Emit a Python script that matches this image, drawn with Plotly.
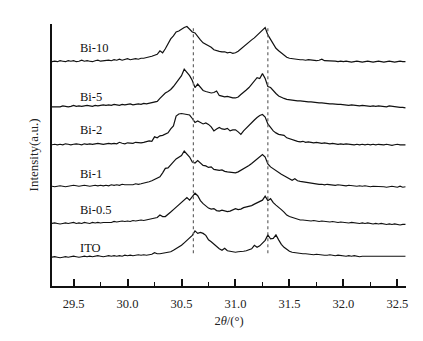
import numpy as np
import plotly.graph_objects as go

# 2-theta sampling grid (degrees), step 0.025 from 29.3 to 32.575
two_theta = np.round(29.3 + 0.025 * np.arange(132), 3)

samples = ["ITO", "Bi-0.5", "Bi-1", "Bi-2", "Bi-5", "Bi-10"]
# vertical stacking offsets (a.u.)
offsets = [29, 62, 100, 142.3, 180, 226]

ito = [0,0.5,0,-0.5,0,0.5,0,0.5,1,0.5,0,0.5,1,0.5,1,0.5,1,1.5,1,0.5,
       1,1.5,1,1.5,1,1.5,1,2,1.5,2,1.5,2,2.5,2,2.5,2,2.5,3,4.5,3.5,
       3.5,4,4,4.5,5.5,7,8.5,10,12,14.5,17,19.5,22,26.5,24,25,24,22,17.5,15.5,
       13,10.5,8.5,7,9,6.5,6,5.5,5,5.5,5.5,6,6.5,7.5,8.5,12,10,11.5,14,17,
       22.5,18.5,19,22.5,17.5,13,10,7.5,6,5,4.5,4,4,3.5,3.5,3,3,2.5,3,2.5,
       2.5,2,2,2.5,2,1.5,2,1.5,1.5,1,1.5,1,1.5,1,0.5,1,1,0.5,1,0.5,
       1,0.5,1,0.5,1,1,0.5,1,0.5,1,0.5,1]

bi_05 = [1,1.5,1,0.5,1,1.5,1,1.5,2,1,1.5,1,2,1.5,1,2,1.5,2,1.5,2,
         2,2.5,2,3,2.5,3,3.5,3,3.5,3,4,3.5,4,4.5,4,4.5,5,5.5,6,7,
         9.5,8,8,10,12.5,15,17.5,20,22.5,25,27,24.5,28,31.5,29,24,21,19,16.5,15.5,
         16,14,13.5,14.5,14,13,13.5,15,16,15,15.5,17,17.5,18.5,19,20.5,22,23,24.5,28.5,
         24,26,22,19.5,17.5,15,12.5,9.5,8,7,6,5.5,4.5,4.5,4,4,3.5,4,3.5,3,
         3.5,3,3,2.5,3,2.5,2,2.5,2,2,1.5,2,1.5,1.5,1,1.5,1,1.5,1,0.5,
         1,0.5,1,0.5,0,0.5,0,0.5,0,-0.5,0,0]

bi_1 = [0.5,0,0.5,1,0.5,0,0.5,1,1.5,1,0.5,1,1.5,1,0.5,1,1.5,1,1.5,1,
        1.5,1,2,1.5,2,1.5,2.5,2,2,2.5,2,3,2.5,3,3.5,4,5,6,7.5,8.5,
        10,14,18.5,19,21.5,25,28,29.5,31.5,36,33,30,25,24,26.5,24,21.5,21,19.5,20,
        17.5,17,16.5,17,15.5,15,14.5,14,14,15,16.5,18,20,21.5,23.5,26,28.5,30,32.5,30,
        23,20,18,16,14.5,12.5,11,9.5,8,6.5,8,6,5.5,5,4.5,4,3.5,3,3,2.5,
        2.5,2,2.5,2,2,1.5,2,1.5,1.5,1,1.5,1,1,0.5,1,0.5,1,0.5,0,0.5,
        0.5,0,0.5,0,-0.5,0,0.5,0,-0.5,0.5,-0.5,0]

bi_2 = [0,0.5,0,0.5,0,1,0.5,0,0.5,1,0.5,0,1,0.5,1,0.5,1,1.5,1,0.5,
        1,1.5,1,1.5,1,2.5,1.5,1,2,2,1.5,2.5,2,2,2.5,3,4,3.5,8,7,
        9,9.5,11,12,16,19,29,31,31.5,31,30.5,30,26.5,22.5,24,22.5,21,22,20.5,18,
        14,16,17.5,16,15.5,16.5,14,15,15,13,10.5,14,17,19.5,22,25,27.5,29.5,30.5,28,
        21,17,14,12,10.5,10,9.5,7,6,5,4,3.5,3,3.5,2.5,3,2.5,2,2.5,2,
        1.5,2,1.5,1,1.5,1,0.5,1,0.5,1,0.5,0.5,0,0.5,0,0.5,0,0.5,0,0.5,
        0,0.5,0,0,0.5,0,-0.5,0,0.5,0,0,0]

bi_5 = [0.5,0.5,1,0.5,1.5,1,0.5,1,2,1,1.5,1,1.5,2,1.5,1,2,1.5,2,2.5,
        2,2.5,2,3,2.5,2,3,2.5,3,3.5,2.5,3,3.5,3,4,3.5,4,4.5,5,6,
        9,12,14.5,16,18,21,24.5,28,32,38.5,35,32,27,20,23.5,20,17,16,15,14.5,
        15,16.5,12,11.5,10.5,11,10,9.5,9.5,10.5,13,15,17.5,20,23,27,30,29,34,29,
        21,20,16.5,14,11.5,10,9,8,7.5,7,7,6.5,6.5,6,6,5.5,5.5,5,5,4.5,
        4.5,4,4,3.5,3.5,3,3,3,2.5,2.5,2,2.5,2,2,1.5,2,1.5,1.5,1,1.5,
        1,1.5,1,1,0.5,1.5,1,0.5,0.5,0,0,-0.5]

bi_10 = [0,0.5,0,1,0.5,0,1,0.5,1,0,0.5,1.5,0.5,1,0.5,0,1,1.5,0.5,1,
         1,1.5,1,2,1.5,2.5,1.5,2,3,2,2.5,3,2.5,3.5,3.5,4,4.5,5.5,6.5,7.5,
         11,9,13,18,23,26,30,31,33,34.5,35.5,33,30,29,25,22,19,17.5,15.5,14.5,
         12,11,10.5,10,10,9,9.5,8.5,9,10.5,13,15,17,19.5,22,24,26.5,29.5,32,34.5,
         27,22,17,13.5,11,8.5,6,4.5,3.5,3,2.5,2.5,2,2,1.5,2,1.5,1.5,1,1.5,
         2.5,1,1,0.5,1,0.5,0,0.5,0,0.5,0,-0.5,0,0.5,0,-0.5,0,0.5,0,-0.5,
         0,0.5,0,-0.5,0,0.5,0,-0.5,0,0.5,0,0]

intensities = [ito, bi_05, bi_1, bi_2, bi_5, bi_10]
label_y = [38, 76.3, 113, 157, 190.7, 240.3]
label_x = 29.54
ref_lines = [30.61, 31.30]
ref_span = [33, 262]

FONT = "Liberation Serif"

fig = go.Figure()
for name, vals, off in zip(samples, intensities, offsets):
    fig.add_trace(go.Scatter(x=two_theta, y=np.array(vals) + off, mode="lines",
                             line=dict(color="#111111", width=1.2), name=name,
                             showlegend=False))

for xv in ref_lines:
    fig.add_trace(go.Scatter(x=[xv, xv], y=ref_span, mode="lines",
                             line=dict(color="#666666", width=1.2, dash="dot"),
                             showlegend=False, hoverinfo="skip"))

for name, ly in zip(samples, label_y):
    fig.add_annotation(x=label_x, y=ly, text=name, showarrow=False,
                       xanchor="left", yanchor="middle",
                       font=dict(family=FONT, size=12.5, color="#111111"))

fig.update_layout(
    width=407, height=325,
    margin=dict(l=44, r=7, t=16, b=45),
    plot_bgcolor="white", paper_bgcolor="white",
    font=dict(family=FONT, size=12.5, color="#222222"),
)
fig.update_xaxes(
    range=[29.3, 32.58], showline=True, linecolor="#111111", linewidth=2,
    ticks="inside", tick0=29.5, dtick=0.5, ticklen=7, tickwidth=1.5, tickcolor="#111111",
    tickformat=".1f", showgrid=False, zeroline=False, ticklabelstandoff=5,
    minor=dict(ticks="inside", dtick=0.25, tick0=29.25, ticklen=4, tickwidth=1.2, tickcolor="#111111"),
    title=dict(text="2<i>θ</i>/(°)", font=dict(family=FONT, size=12.5), standoff=6),
)
fig.update_yaxes(
    range=[0, 264], showline=True, linecolor="#111111", linewidth=2,
    ticks="inside", tickvals=[264], ticklen=5, tickwidth=1.5, tickcolor="#111111",
    showticklabels=False, showgrid=False, zeroline=False,
    title=dict(text="Intensity(a.u.)", font=dict(family=FONT, size=13), standoff=8),
)

fig.write_html("out.html")
